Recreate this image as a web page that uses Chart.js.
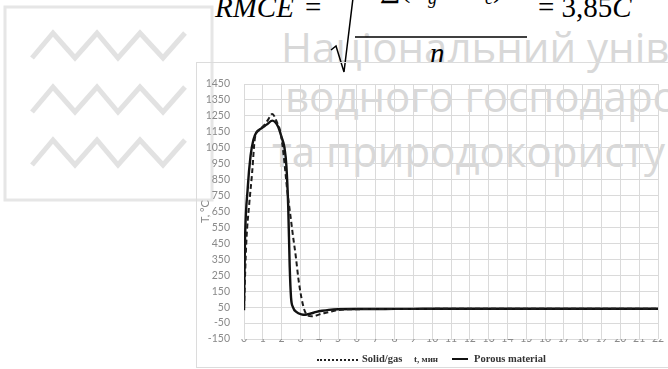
<!DOCTYPE html>
<html>
<head>
<meta charset="utf-8">
<script src="https://cdn.jsdelivr.net/npm/chart.js@4"></script>
<style>
  html, body { margin: 0; padding: 0; background: #fff; }
  #wrap { position: relative; width: 668px; height: 369px; overflow: hidden; background: #fff; }
  #deco { position: absolute; left: 0; top: 0; }
  #frame { position: absolute; left: 196px; top: 62px; width: 490px; height: 304px; border: 1px solid #dcdcdc; }
  #plot { position: absolute; left: 0; top: 0; }
  .leg { position: absolute; top: 353px; font-family: "Liberation Serif", serif; font-weight: bold; font-size: 10.5px; color: #333; white-space: nowrap; line-height: 12px; }
  .sample { position: absolute; height: 0; }
</style>
</head>
<body>
<div id="wrap">
  <svg id="deco" width="668" height="369" xmlns="http://www.w3.org/2000/svg">
    <!-- university logo -->
    <rect x="5" y="7" width="207" height="193" fill="none" stroke="#e6e6e6" stroke-width="3"/>
    <g fill="none" stroke="#e2e2e2" stroke-width="5" stroke-linejoin="miter">
      <polyline points="32,58 53,33 75,58 97,33 118,58 140,33 163,58 185,33"/>
      <polyline points="32,112 53,87 75,112 97,87 118,112 140,87 163,112 185,87"/>
      <polyline points="32,165 53,140 75,165 97,140 118,165 140,140 163,165 185,140"/>
    </g>
    <!-- watermark -->
    <g font-family="Open Sans" font-size="42" fill="#d8d8d8">
      <text x="281" y="63">Національний університет</text>
      <text x="285" y="112">водного господарства</text>
      <text x="272" y="167">та природокористування</text>
    </g>
    <!-- formula -->
    <g font-family="Liberation Serif" font-size="29" fill="#000">
      <text x="215" y="17" font-style="italic">RMCE</text>
      <text x="305" y="17">=</text>
      <text x="380" y="-3">∑(T<tspan font-size="18" dy="7" font-style="italic">g</tspan><tspan dy="-7"> − T</tspan><tspan font-size="18" dy="7" font-style="italic">e</tspan><tspan dy="-7">)</tspan></text>
      <text x="430" y="63" font-style="italic">n</text>
      <text x="538" y="17">= 3,85<tspan font-style="italic">C</tspan></text>
    </g>
    <path d="M331,50 L336,46 L344,72 L353,-2" fill="none" stroke="#000" stroke-width="1.5"/>
    <line x1="355" y1="37" x2="527" y2="37" stroke="#000" stroke-width="1.4"/>
  </svg>
  <div id="frame"></div>
  <canvas id="plot" width="668" height="369"></canvas>
  <div class="sample" style="left:317px; top:359px; width:41px; border-top:2px dotted #222;"></div>
  <div class="leg" style="left:362px;">Solid/gas</div>
  <div class="leg" style="left:414px; font-size:9px;">t, мин</div>
  <div class="sample" style="left:452px; top:358px; width:16px; border-top:2.5px solid #111;"></div>
  <div class="leg" style="left:474px;">Porous material</div>
</div>
<script>
// Temperature, °C, against time, min
const timeSolidGas = [0, 0.12, 0.28, 0.43, 0.58, 0.8, 1.1, 1.3, 1.5, 1.75, 1.95, 2.1, 2.3, 2.45, 2.6, 2.75, 2.9, 3.05, 3.2, 3.35, 3.6, 3.85, 4.1, 4.4, 4.7, 5, 6, 7, 8, 9, 10, 11, 12, 13, 14, 15, 16, 17, 18, 19, 20, 21, 22];
const solidGasTemp = [40, 450, 700, 890, 1110, 1160, 1195, 1230, 1262, 1210, 1140, 1010, 780, 640, 500, 370, 220, 110, 35, 0, -8, -2, 8, 16, 24, 32, 37, 38, 38, 39, 39, 40, 40, 40, 40, 40, 40, 40, 40, 40, 40, 40, 40];

const timePorous = [0, 0.05, 0.2, 0.35, 0.5, 0.65, 0.9, 1.2, 1.5, 1.8, 2.0, 2.15, 2.25, 2.35, 2.43, 2.5, 2.6, 2.8, 3.05, 3.25, 3.55, 3.85, 4.15, 4.5, 5, 6, 7, 8, 9, 10, 11, 12, 13, 14, 15, 16, 17, 18, 19, 20, 21, 22];
const porousTemp = [30, 450, 800, 1000, 1100, 1145, 1170, 1195, 1220, 1185, 1115, 1050, 940, 680, 300, 110, 50, 18, 5, 2, 10, 20, 27, 33, 37, 38, 38, 39, 39, 40, 40, 40, 40, 40, 40, 40, 40, 40, 40, 40, 40, 40];

const seriesNames = ['Solid/gas', 'Porous material'];
const yMin = -150, yMax = 1450, yStep = 100;
const xMin = 0, xMax = 22, xStep = 1;

const toPoints = (xs, ys) => xs.map((x, i) => ({ x: x, y: ys[i] }));
const plainNumber = (v) => String(v);

new Chart(document.getElementById('plot'), {
  type: 'line',
  data: {
    datasets: [
      {
        label: seriesNames[0],
        data: toPoints(timeSolidGas, solidGasTemp),
        borderColor: '#1c1c1c',
        borderWidth: 2,
        borderDash: [5, 3],
        pointRadius: 0,
        cubicInterpolationMode: 'monotone',
        fill: false
      },
      {
        label: seriesNames[1],
        data: toPoints(timePorous, porousTemp),
        borderColor: '#111',
        borderWidth: 2.4,
        pointRadius: 0,
        cubicInterpolationMode: 'monotone',
        fill: false
      }
    ]
  },
  options: {
    responsive: false,
    devicePixelRatio: 1,
    animation: false,
    layout: { padding: { left: 196, top: 84, right: 10, bottom: 0 } },
    plugins: { legend: { display: false }, tooltip: { enabled: false } },
    scales: {
      x: {
        type: 'linear',
        min: xMin, max: xMax,
        ticks: { stepSize: xStep, autoSkip: false, maxRotation: 0, padding: -7,
                 callback: plainNumber,
                 color: '#8a8a8a', font: { family: 'Lato', size: 10.5 } },
        grid: { color: '#dadada', lineWidth: 1, drawTicks: false },
        border: { display: false },
        afterFit: (s) => { s.height = 30; }
      },
      y: {
        min: yMin, max: yMax,
        ticks: { stepSize: yStep, autoSkip: false, padding: 14,
                 callback: plainNumber,
                 color: '#8a8a8a', font: { family: 'Lato', size: 10.5 } },
        grid: { color: '#dadada', lineWidth: 1, drawTicks: false },
        border: { display: false },
        title: { display: true, text: 'T, °C', color: '#8a8a8a',
                 font: { family: 'Lato', size: 11 }, padding: { top: 3, bottom: 0 } },
        afterFit: (s) => { s.width = 48; }
      }
    }
  }
});
</script>
</body>
</html>
